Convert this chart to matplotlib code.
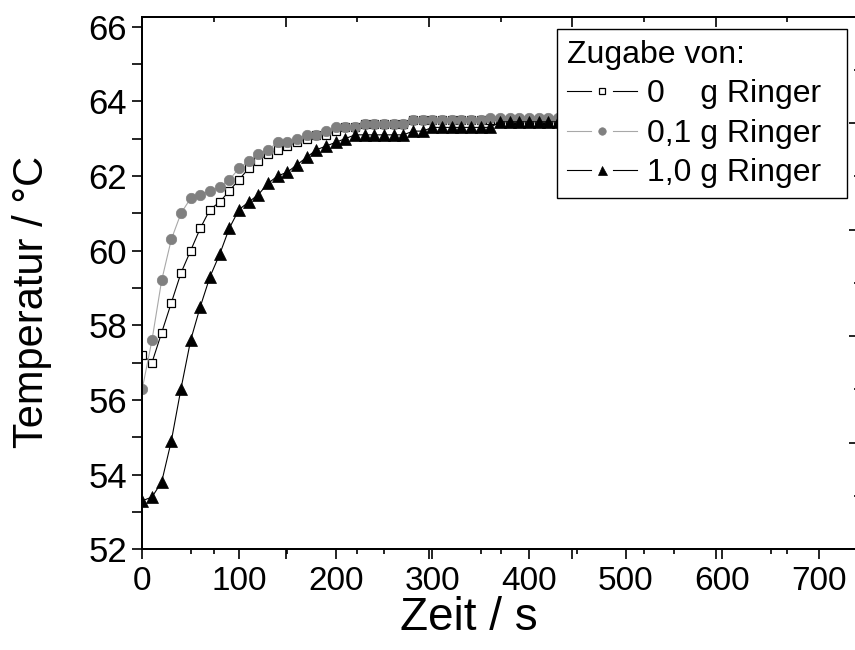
import matplotlib
matplotlib.use("Agg")
import matplotlib.pyplot as plt
from matplotlib.lines import Line2D
from matplotlib.legend_handler import HandlerBase
from matplotlib.ticker import FixedLocator, MultipleLocator, FuncFormatter

# Daten, Zeit in s, Temperatur in °C
zeit = [0, 10, 20, 30, 40, 50, 60, 70, 80, 90,
        100, 110, 120, 130, 140, 150, 160, 170, 180, 190,
        200, 210, 220, 230, 240, 250, 260, 270, 280, 290,
        300, 310, 320, 330, 340, 350, 360, 370, 380, 390,
        400, 410, 420, 430, 440]

temp_0 = [57.2, 57.0, 57.8, 58.6, 59.4, 60.0, 60.6, 61.1, 61.3, 61.6,
          61.9, 62.2, 62.4, 62.6, 62.7, 62.8, 62.9, 63.0, 63.1, 63.1,
          63.2, 63.3, 63.3, 63.4, 63.4, 63.4, 63.4, 63.4, 63.5, 63.5,
          63.5, 63.5, 63.5, 63.5, 63.5, 63.5, 63.5, 63.5, 63.5, 63.5,
          63.5, 63.5, 63.5, 63.5, 63.5]

temp_01 = [56.3, 57.6, 59.2, 60.3, 61.0, 61.4, 61.5, 61.6, 61.7, 61.9,
           62.2, 62.4, 62.6, 62.7, 62.9, 62.9, 63.0, 63.1, 63.1, 63.2,
           63.3, 63.3, 63.3, 63.4, 63.4, 63.4, 63.4, 63.4, 63.5, 63.5,
           63.5, 63.5, 63.5, 63.5, 63.5, 63.5, 63.55, 63.55, 63.55, 63.55,
           63.55, 63.55, 63.55, 63.55, 63.55]

temp_10 = [53.3, 53.4, 53.8, 54.9, 56.3, 57.6, 58.5, 59.3, 59.9, 60.6,
           61.1, 61.3, 61.5, 61.8, 62.0, 62.1, 62.3, 62.5, 62.7, 62.8,
           62.9, 63.0, 63.1, 63.1, 63.1, 63.1, 63.1, 63.1, 63.2, 63.2,
           63.3, 63.3, 63.3, 63.3, 63.3, 63.3, 63.3, 63.45, 63.45, 63.45,
           63.45, 63.45, 63.45, 63.45, 63.45]

labels = ["0    g Ringer", "0,1 g Ringer", "1,0 g Ringer"]

x_ticks = [0, 100, 200, 300, 400, 500, 600, 700]


class GapHandler(HandlerBase):
    # Legendensymbol im Origin-Stil: Linie - Marker - Linie mit Luecken
    def create_artists(self, legend, orig, xdescent, ydescent, width, height, fontsize, trans):
        y = (height - ydescent) / 2
        x0 = -xdescent
        x1 = -xdescent + width
        xm = (x0 + x1) / 2
        gap = 0.16 * width
        kw = dict(color=orig.get_color(), lw=orig.get_linewidth())
        left = Line2D([x0, xm - gap], [y, y], **kw)
        right = Line2D([xm + gap, x1], [y, y], **kw)
        mark = Line2D([xm], [y], ls="none", marker=orig.get_marker(),
                      ms=orig.get_markersize() * 0.72,
                      mfc=orig.get_markerfacecolor(), mec=orig.get_markeredgecolor(),
                      mew=orig.get_markeredgewidth())
        for a in (left, right, mark):
            a.set_transform(trans)
        return [left, right, mark]


plt.rcParams["font.family"] = ["Liberation Sans", "DejaVu Sans"]

fig = plt.figure(figsize=(8.55, 6.5), dpi=100)
ax = fig.add_axes([142.3 / 855, 1 - 549.3 / 650, (856.5 - 142.3) / 855, (549.3 - 16.5) / 650])

xmax = 738.6
ymax = 66.27

l0, = ax.plot(zeit, temp_0, color="black", lw=0.8, marker="s", ms=6,
              mfc="white", mec="black", mew=0.9, label=labels[0])
l1, = ax.plot(zeit, temp_01, color="#a8a8a8", lw=0.8, marker="o", ms=7.5,
              mfc="#808080", mec="#808080", mew=0.5, label=labels[1])
l2, = ax.plot(zeit, temp_10, color="black", lw=0.8, marker="^", ms=9,
              mfc="black", mec="black", mew=0.5, label=labels[2])

ax.set_xlim(0, xmax)
ax.set_ylim(52, ymax)

# zweite Origin-Ebene: andere Teilung oben/rechts (auch unten sichtbar)
layer_major = [148.2, 296.4, 444.6, 592.8]
layer_minor = [74.1, 222.3, 370.5, 518.7, 666.9]

ax.xaxis.set_major_locator(FixedLocator(x_ticks + layer_major))
ax.xaxis.set_major_formatter(FuncFormatter(lambda v, p: f"{v:.0f}" if v in x_ticks else ""))
ax.xaxis.set_minor_locator(FixedLocator([50, 150, 250, 350, 450, 550, 650] + layer_minor))
ax.yaxis.set_major_locator(MultipleLocator(2))
ax.yaxis.set_minor_locator(MultipleLocator(1))
ax.tick_params(axis="both", which="major", direction="out", length=7, width=1.2)
ax.tick_params(axis="x", which="major", pad=5, labelsize=24)
ax.tick_params(axis="y", which="major", pad=4, labelsize=25)
ax.tick_params(axis="x", which="minor", direction="out", length=3.5, width=1.2)
ax.tick_params(axis="y", which="minor", direction="out", length=7, width=1.2)
for s in ax.spines.values():
    s.set_linewidth(1.2)

ax_top = ax.twiny()
ax_top.set_xlim(0, xmax)
ax_top.xaxis.set_major_locator(FixedLocator(layer_major))
ax_top.xaxis.set_minor_locator(FixedLocator(layer_minor))
ax_top.tick_params(axis="x", which="major", direction="in", length=7.5, width=1.2, labeltop=False)
ax_top.tick_params(axis="x", which="minor", direction="in", length=3.5, width=1.2)

ax_r = ax.twinx()
ax_r.set_ylim(52, ymax)
step = (ymax - 52) / 5
ax_r.yaxis.set_major_locator(FixedLocator([52 + k * step for k in range(6)]))
ax_r.yaxis.set_minor_locator(FixedLocator([52 + (k + 0.5) * step for k in range(5)]))
ax_r.tick_params(axis="y", which="major", direction="in", length=6, width=1.2, labelright=False)
ax_r.tick_params(axis="y", which="minor", direction="in", length=2.5, width=1.2)
for a in (ax_top, ax_r):
    for s in a.spines.values():
        s.set_linewidth(1.2)

ax.set_xlabel("Zeit / s", fontsize=33)
ax.xaxis.set_label_coords(0.457, -0.088)
ax.set_ylabel("Temperatur / °C", fontsize=30)
ax.yaxis.set_label_coords(-0.126, 0.464)

leg = ax.legend([l0, l1, l2], labels, title="Zugabe von:", loc="upper left",
                bbox_to_anchor=(556.7 / 855, 1 - 29.3 / 650, (846.7 - 556.7) / 855, 0.0),
                bbox_transform=fig.transFigure, mode="expand",
                fontsize=23, title_fontsize=23, fancybox=False, edgecolor="black",
                framealpha=1, borderpad=0.32, labelspacing=0.3, handlelength=2.2,
                handletextpad=0.3, borderaxespad=0, alignment="left",
                handler_map={Line2D: GapHandler()})
leg.get_frame().set_linewidth(1.0)

fig.savefig("out.png", dpi=100)
